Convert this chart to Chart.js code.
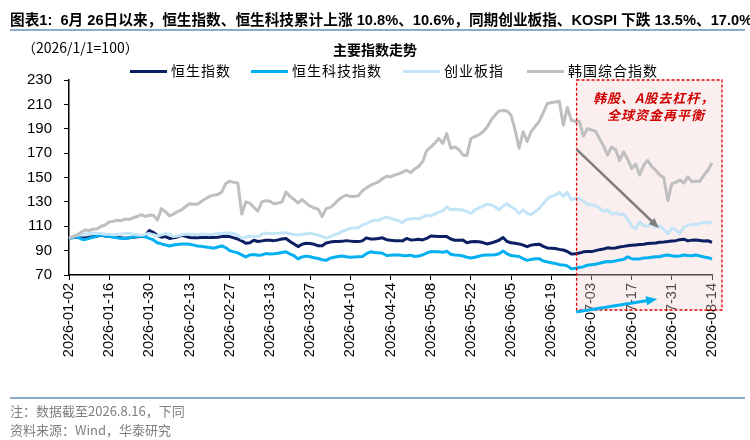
<!DOCTYPE html>
<html>
<head>
<meta charset="utf-8">
<script src="https://cdn.jsdelivr.net/npm/chart.js@4/dist/chart.umd.min.js"></script>
<style>
  body { margin: 0; background: #fff; }
  #page { position: relative; width: 750px; height: 440px; overflow: hidden; background: #fff;
          font-family: "Liberation Sans", "Noto Sans CJK SC", sans-serif; color: #000; }
  #chartBox { position: absolute; left: 0; top: 0; width: 750px; height: 440px; }
  .txt { position: absolute; white-space: nowrap; }
  #title { left: 10px; top: 8px; font-size: 15px; font-weight: bold; transform-origin: 0 0;
           font-family: "Liberation Sans Narrow", "Liberation Sans", "Noto Sans CJK SC", sans-serif; }
  .rule { position: absolute; left: 10px; width: 735px; height: 2px; background: #8eaacb; }
  .leg { position: absolute; top: 60px; font-size: 14px; letter-spacing: 1px; font-family: "Noto Sans CJK SC", sans-serif; }
  .leg i { display: inline-block; width: 37px; height: 3px; vertical-align: middle; margin-right: 4px; position: relative; top: -1px; }
  .note { color: #d00000; font-size: 13px; font-weight: bold; font-style: italic; letter-spacing: 1px;
          font-family: "Noto Sans CJK SC", sans-serif; }
  .foot { color: #7f7f7f; font-size: 13px; font-family: "Noto Sans CJK SC", sans-serif; }
</style>
</head>
<body>
<div id="page">
  <div id="chartBox"><canvas id="myChart"></canvas></div>
  <div id="title" class="txt">图表1:&nbsp; 6月 26日以来，恒生指数、恒生科技累计上涨 10.8%、10.6%，同期创业板指、KOSPI 下跌 13.5%、17.0%</div>
  <div class="rule" style="top:29px"></div>
  <div class="txt" style="left:22px; top:37px; font-size:14px; font-family:'Noto Sans CJK SC',sans-serif;">（2026/1/1=100）</div>
  <div class="txt" style="left:333px; top:39px; font-size:14px; font-weight:bold; font-family:'Noto Sans CJK SC',sans-serif;">主要指数走势</div>
  <div class="leg" style="left:130px"><i style="background:#0d1f63"></i>恒生指数</div>
  <div class="leg" style="left:251px"><i style="background:#00b0f0"></i>恒生科技指数</div>
  <div class="leg" style="left:403px"><i style="background:#c4e4f8"></i>创业板指</div>
  <div class="leg" style="left:527px"><i style="background:#bfbfbf"></i>韩国综合指数</div>
  <div class="txt note" style="left:593px; top:88px;">韩股、A股去杠杆，</div>
  <div class="txt note" style="left:607px; top:105px;">全球资金再平衡</div>
  <div class="rule" style="top:397px; height:1.5px;"></div>
  <div class="txt foot" style="left:10px; top:401px;">注：数据截至2026.8.16，下同</div>
  <div class="txt foot" style="left:10px; top:420px;">资料来源：Wind，华泰研究</div>
</div>
<script>
// 交易日（周一至周五），2026-01-02 至 2026-08-14
const dates = [];
for (let d = new Date(Date.UTC(2026, 0, 2)); d <= new Date(Date.UTC(2026, 7, 14)); d.setUTCDate(d.getUTCDate() + 1)) {
    const wd = d.getUTCDay();
    if (wd !== 0 && wd !== 6) dates.push(d.toISOString().slice(0, 10));
}

// 横轴显示的刻度
const tickLabels = ['2026-01-02', '2026-01-16', '2026-01-30', '2026-02-13', '2026-02-27', '2026-03-13',
    '2026-03-27', '2026-04-10', '2026-04-24', '2026-05-08', '2026-05-22', '2026-06-05', '2026-06-19',
    '2026-07-03', '2026-07-17', '2026-07-31', '2026-08-14'];

// 恒生指数
const hsi = [
    100, 101, 101, 100.5, 100.3, 101, 101.5, 102, 102.5, 102,
    101.8, 101.5, 101, 100.5, 100.2, 100.5, 101, 101.3, 101.5, 102.5,
    106.5, 105, 102.5, 101, 101.5, 100, 100.5, 101.2, 102.5, 101.8,
    100.8, 100.5, 100.5, 100.8, 100.8, 100.8, 100.8, 101, 101.5, 101.8,
    101.5, 100.5, 99.5, 98, 96, 96.5, 98.5, 97.5, 98, 98.5,
    98.5, 98.2, 98.8, 99.5, 100, 97.5, 95.5, 93.3, 95.3, 96,
    95.8, 95.2, 94, 94, 96.2, 97, 97.4, 97.4, 97.6, 98.2,
    97.8, 97.4, 97.4, 98, 100.5, 99.5, 99.5, 100, 100.5, 99,
    98.5, 98.2, 98.2, 98, 100, 98.8, 99, 99.3, 98.8, 100,
    102, 101.8, 101.5, 101.5, 101.5, 99.5, 98.5, 98.5, 98.7, 96.5,
    97.3, 97.4, 97.2, 96.6, 95.5, 96.2, 97.3, 98.5, 100.8, 97.5,
    96.5, 96, 95.5, 94.5, 93.2, 94.5, 95, 95.3, 93.5, 92.2,
    92, 91.8, 91, 90.5, 89.3, 87.2, 87.5, 88, 89, 89.2,
    89.2, 90, 90.8, 91.3, 92.3, 92, 92.2, 93, 93.5, 94,
    94.4, 94.7, 95, 95.3, 95.8, 96, 96.2, 96.8, 97, 97.4,
    97.9, 98.2, 99, 99.4, 98, 98.6, 98.7, 98.3, 97.9, 98.1,
    96.8
];

// 恒生科技指数
const hstech = [
    100, 100.5, 101.5, 99.5, 99, 100, 101, 102, 102.8, 102,
    101.8, 101, 100.5, 100, 100, 100.5, 101.3, 101.5, 102, 101.3,
    100, 98.8, 96.5, 95.5, 94.6, 93.8, 94.6, 95, 95.4, 95.4,
    95.2, 94.5, 93.8, 93.5, 93, 92.5, 92, 93, 93.8, 92.5,
    90, 89, 88.2, 86.5, 84.8, 86.5, 86.8, 86.2, 86.5, 87.6,
    87.3, 87.5, 87.8, 88.5, 89, 87.2, 85.8, 83.2, 84.8, 85.5,
    85, 84.2, 83.5, 82.5, 82, 83.8, 84.5, 85.2, 85.6, 85,
    84.5, 84.8, 85, 85.2, 87.5, 89, 88.4, 88.3, 87.8, 86,
    86.2, 86.4, 86.5, 86, 85.8, 86.3, 85.2, 85.6, 86.5, 88,
    89.2, 89, 89.1, 88.6, 89.5, 87, 86.4, 86.3, 85.6, 84.6,
    83.9, 84.6, 85.4, 86.3, 86.4, 86.4, 86.6, 87.4, 89.6, 87.4,
    86, 85.6, 85.2, 83.5, 82, 82.8, 83.3, 83.4, 81.5, 80.8,
    80, 79.5, 78.5, 78.3, 77.5, 75.2, 75.6, 76.2, 76.8, 78,
    78.4, 78.8, 79.6, 80.4, 81, 80.9, 81.6, 82.3, 82.8, 85,
    83.3, 83.1, 83.2, 84, 84.2, 84.6, 85, 85, 86, 86.4,
    85.8, 85.3, 85.6, 86.4, 86, 85.8, 86.4, 85.6, 84.8, 84.2,
    83.1
];

// 创业板指
const chinext = [
    100, 101.5, 102.5, 103, 103.5, 104, 104.5, 104, 104, 103.5,
    103.5, 103, 103.5, 103.5, 104, 104, 103.5, 103, 102.5, 103.5,
    104, 103, 102, 103, 104, 103.5, 101.5, 102, 103, 103.5,
    103.5, 103.5, 103, 103.5, 103.5, 103, 103.5, 104, 104, 104.5,
    104.5, 104, 102.8, 100, 101, 102, 101.5, 101.5, 103.5, 104.5,
    103.8, 104, 104.2, 104.5, 104.7, 103.8, 103.2, 102.8, 103.5, 103.8,
    104.2, 103.5, 102.8, 101.5, 100.2, 101.5, 103, 104, 105.8, 107,
    108.3, 108.5, 108.8, 111, 112, 114, 115, 114.8, 116.5, 117.5,
    116.5, 115.5, 114.5, 113, 115.5, 116, 116.5, 116, 117.5, 119,
    118.5, 120, 121.5, 122.5, 126, 123.5, 124, 123.5, 123.5, 122,
    120.5, 123.5, 125, 126.5, 128, 127.5, 126, 123.5, 126.5, 128.5,
    126, 124, 120.5, 123.5, 120.5, 119.5, 122, 124.5, 128.5, 132.5,
    134.5, 135.5, 138, 134.5, 138, 131.5, 133, 132.5, 130.5, 128,
    127.5, 127, 125, 122, 123.5, 120, 121, 119.5, 120, 116,
    110, 108, 113.5, 110.5, 110, 111.5, 109, 110.5, 107.5, 104,
    108.5, 107, 104, 109.5, 110.5, 111.5, 111.5, 112, 113.5, 112.5,
    113.5
];

// 韩国综合指数
const kospi = [
    100, 101.5, 103, 105, 107, 106.5, 107.5, 108, 110, 111,
    113.5, 114, 115, 114.5, 116, 115.5, 117, 118, 119.5, 118,
    119, 119, 115, 124.5, 122, 118.5, 120, 122, 123.5, 126,
    128.5, 128, 128, 130.5, 132.5, 134.5, 135.5, 136, 138, 145,
    147, 146, 145.5, 120, 130, 129, 125.5, 122.5, 130, 131,
    130.5, 128.5, 129, 130, 138, 134.5, 132, 129, 132, 129,
    126.5, 125, 124, 118, 124.5, 125.5, 128, 131.5, 134, 135.5,
    134.5, 134.5, 135, 139, 141.5, 143.5, 145, 146.5, 149, 151,
    150.5, 152, 153, 154.5, 156, 154, 157, 159, 163, 172,
    175, 178, 182, 178, 186, 174, 175, 173, 168.5, 168,
    182, 183.5, 185, 187.5, 191, 197, 201, 204.5, 205, 204.5,
    201, 189, 174, 187.5, 179.5, 187.5, 192, 196, 203, 210.5,
    211.5, 212, 212.5, 193, 207.5, 197, 196, 196, 184, 190,
    189, 188, 182, 176, 168.5, 175, 173, 164, 171, 165,
    157.5, 161, 152, 160, 164, 159, 156, 152, 150, 131,
    145, 146, 148, 145.5, 150.5, 146.5, 147, 147, 152, 156,
    162
];

// 标注：6月26日以来区间、箭头（数据坐标）
const shadeFrom = '2026-06-29';
const grayArrow = { from: ['2026-06-29', 173], to: ['2026-07-27', 108.5] };

// 标题压缩到一行
const title = document.getElementById('title');
title.style.transform = 'scaleX(' + (742 / title.scrollWidth) + ')';

function drawArrow(ctx, x1, y1, x2, y2, color, w, head) {
    const a = Math.atan2(y2 - y1, x2 - x1);
    ctx.strokeStyle = color;
    ctx.fillStyle = color;
    ctx.lineWidth = w;
    ctx.beginPath();
    ctx.moveTo(x1, y1);
    ctx.lineTo(x2 - head * 0.8 * Math.cos(a), y2 - head * 0.8 * Math.sin(a));
    ctx.stroke();
    ctx.beginPath();
    ctx.moveTo(x2, y2);
    ctx.lineTo(x2 - head * Math.cos(a - 0.38), y2 - head * Math.sin(a - 0.38));
    ctx.lineTo(x2 - head * Math.cos(a + 0.38), y2 - head * Math.sin(a + 0.38));
    ctx.closePath();
    ctx.fill();
}

// 阴影区的像素范围
function shadeBox(chart) {
    const xs = chart.scales.x, area = chart.chartArea;
    const left = xs.getPixelForValue(dates.indexOf(shadeFrom) + 0.3);
    return { left: left, top: area.top, w: area.right + 10 - left, h: 35 + area.bottom - area.top };
}

const notePlugin = {
    id: 'note',
    beforeDatasetsDraw(chart) {
        const b = shadeBox(chart);
        chart.ctx.save();
        chart.ctx.fillStyle = 'rgba(240, 205, 205, 0.35)';
        chart.ctx.fillRect(b.left, b.top, b.w, b.h);
        chart.ctx.restore();
    },
    afterDraw(chart) {
        const ctx = chart.ctx;
        const xs = chart.scales.x, ys = chart.scales.y, area = chart.chartArea;
        const b = shadeBox(chart);
        ctx.save();
        ctx.setLineDash([3, 2]);
        ctx.strokeStyle = '#e00000';
        ctx.lineWidth = 1.3;
        ctx.strokeRect(b.left, b.top, b.w, b.h);
        ctx.setLineDash([]);
        ctx.lineCap = 'butt';
        drawArrow(ctx,
            xs.getPixelForValue(dates.indexOf(grayArrow.from[0]) + 0.3), ys.getPixelForValue(grayArrow.from[1]),
            xs.getPixelForValue(dates.indexOf(grayArrow.to[0]) + 0.8), ys.getPixelForValue(grayArrow.to[1]),
            '#7f7f7f', 2.5, 11);
        drawArrow(ctx,
            xs.getPixelForValue(dates.indexOf('2026-06-29') + 0.2), area.bottom + 37,
            xs.getPixelForValue(dates.indexOf('2026-07-27') + 0.4), area.bottom + 24,
            '#00b0f0', 3, 12);
        ctx.restore();
    }
};

const ctx = document.getElementById('myChart').getContext('2d');
new Chart(ctx, {
    type: 'line',
    data: {
        labels: dates,
        datasets: [
            { label: '恒生指数', data: hsi, borderColor: '#0d1f63', borderWidth: 3, order: 4 },
            { label: '恒生科技指数', data: hstech, borderColor: '#00b0f0', borderWidth: 3, order: 3 },
            { label: '创业板指', data: chinext, borderColor: '#c4e4f8', borderWidth: 3, order: 2 },
            { label: '韩国综合指数', data: kospi, borderColor: '#bfbfbf', borderWidth: 3, order: 1 }
        ]
    },
    options: {
        responsive: true,
        maintainAspectRatio: false,
        animation: false,
        elements: { point: { radius: 0 }, line: { tension: 0, borderJoinStyle: 'round' } },
        layout: { padding: { top: 80, left: 0, right: 38, bottom: 0 } },
        plugins: { legend: { display: false }, tooltip: { enabled: false } },
        scales: {
            x: {
                grid: { drawOnChartArea: false, tickLength: 5, color: '#000', tickColor: '#000' },
                border: { color: '#000', width: 1.5 },
                afterFit: function(scale) { scale.height = 165; },
                afterBuildTicks: function(scale) {
                    scale.ticks = scale.ticks.filter(t => tickLabels.includes(dates[t.value]));
                },
                ticks: {
                    autoSkip: false, maxRotation: 90, minRotation: 90, padding: 3,
                    color: '#000',
                    font: { family: 'Liberation Sans', size: 14.5 },
                    callback: function(value) { return dates[value]; }
                }
            },
            y: {
                min: 70, max: 230,
                grid: { drawOnChartArea: false, tickLength: 5, color: '#000', tickColor: '#000' },
                border: { color: '#000', width: 1.5 },
                afterFit: function(scale) { scale.width = 69; },
                ticks: {
                    stepSize: 20, padding: 12, color: '#000',
                    font: { family: 'Liberation Sans', size: 15 }
                }
            }
        }
    },
    plugins: [notePlugin]
});
</script>
</body>
</html>
